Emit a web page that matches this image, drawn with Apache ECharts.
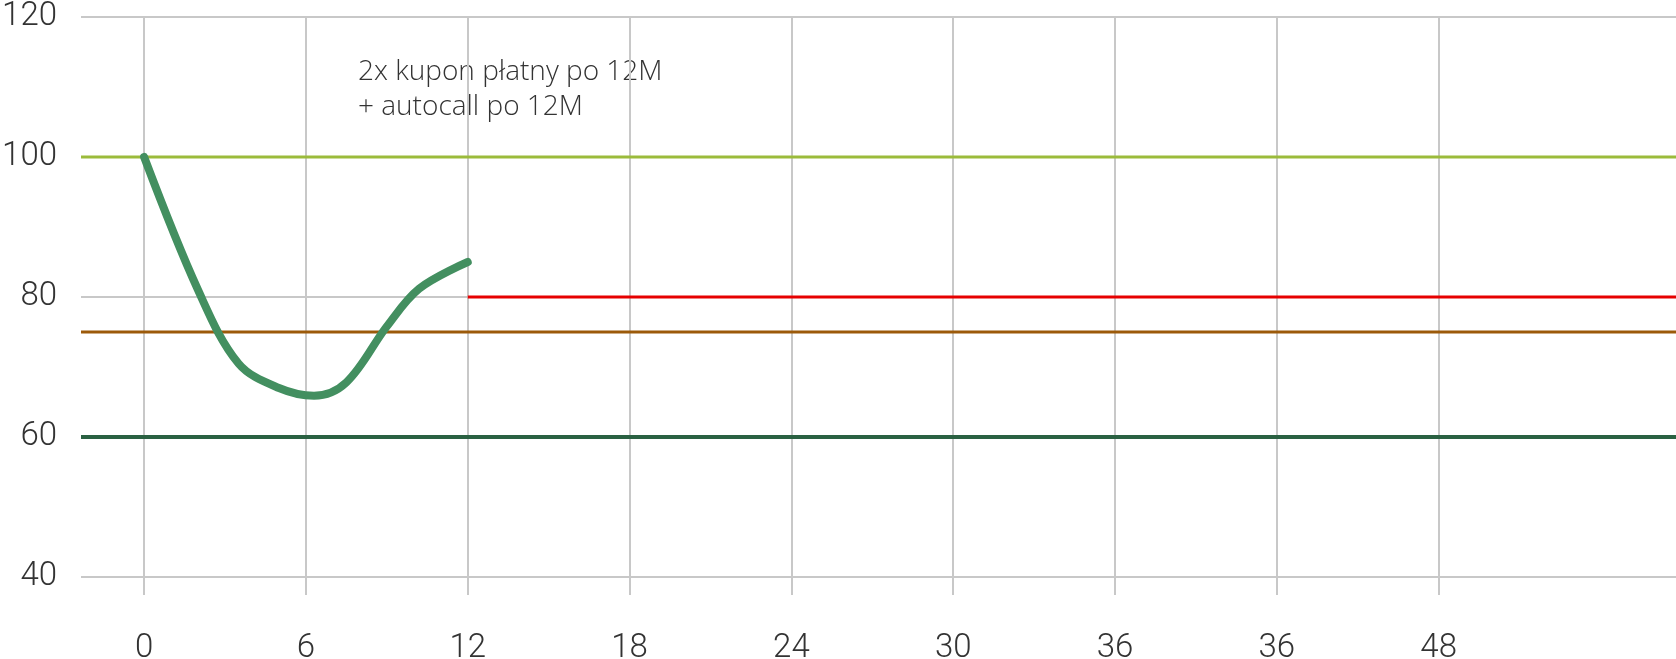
<!DOCTYPE html>
<html>
<head>
<meta charset="utf-8">
<title>autocall</title>
<script src="https://cdn.jsdelivr.net/npm/echarts@6/dist/echarts.min.js"></script>
<style>
  html, body { margin: 0; padding: 0; background: #fff; }
  #chart { width: 1676px; height: 659px; }
</style>
</head>
<body>
<div id="chart"></div>
<script>
// miesiące na osi X (etykiety jak w oryginale, z powtórzonym 36)
const xTicks = [0, 6, 12, 18, 24, 30, 36, 42, 48];
const xLabels = ['0', '6', '12', '18', '24', '30', '36', '36', '48'];
const xMin = -2.34;
const xMax = 56.8;

// poziomy referencyjne
const levelStart = 100;   // poziom startowy
const levelAutocall = 80; // autocall od 12M
const levelCoupon = 75;   // bariera kuponowa
const levelBarrier = 60;  // bariera kapitału
const autocallFrom = 12;

// ścieżka instrumentu bazowego
const pathData = [
  [0, 100], [2, 81], [3.5, 70.5], [5, 67], [6.3, 65.9],
  [7.5, 67.8], [9, 75.8], [10.2, 81.2], [12, 85]
];

const noteText = '2x kupon płatny po 12M\n+ autocall po 12M';

const chart = echarts.init(document.getElementById('chart'));

function flatLine(name, y, from, color, width) {
  return {
    name: name,
    type: 'line',
    data: [[from, y], [xMax, y]],
    symbol: 'none',
    silent: true,
    lineStyle: { color: color, width: width },
    z: 3
  };
}

const option = {
  animation: false,
  textStyle: { fontFamily: 'Roboto, sans-serif' },
  grid: { left: 81, right: 0, top: 17, bottom: 82, outerBoundsMode: 'none' },
  xAxis: {
    type: 'value',
    min: xMin,
    max: xMax,
    axisLine: { show: false },
    axisTick: {
      show: true,
      customValues: xTicks,
      length: 18,
      lineStyle: { color: '#c8c8c8', width: 2 }
    },
    axisLabel: {
      customValues: xTicks,
      formatter: v => xLabels[xTicks.indexOf(v)],
      fontSize: 33,
      fontWeight: 300,
      color: '#333',
      margin: 55
    },
    splitLine: { show: true, lineStyle: { color: '#c8c8c8', width: 2 } }
  },
  yAxis: {
    type: 'value',
    min: 40,
    max: 120,
    interval: 20,
    axisLine: { show: false },
    axisTick: { show: false },
    axisLabel: {
      fontSize: 33,
      fontWeight: 300,
      color: '#333',
      margin: 24
    },
    splitLine: { lineStyle: { color: '#c8c8c8', width: 2 } }
  },
  graphic: [{
    type: 'text',
    left: 358,
    top: 55,
    style: {
      text: noteText,
      font: '300 28px "Open Sans", sans-serif',
      fill: '#333',
      lineHeight: 35
    }
  }],
  series: [
    flatLine('start', levelStart, xMin, '#9bbb3b', 3),
    flatLine('kupon', levelCoupon, xMin, '#9c5a0a', 3),
    flatLine('bariera', levelBarrier, xMin, '#2a6142', 4),
    flatLine('autocall', levelAutocall, autocallFrom, '#e60000', 3),
    {
      name: 'ścieżka',
      type: 'line',
      data: pathData,
      smooth: 0.35,
      symbol: 'none',
      lineStyle: { color: '#438f60', width: 8, cap: 'round' },
      z: 5
    }
  ]
};

chart.setOption(option);
window.addEventListener('resize', () => chart.resize());
</script>
</body>
</html>
